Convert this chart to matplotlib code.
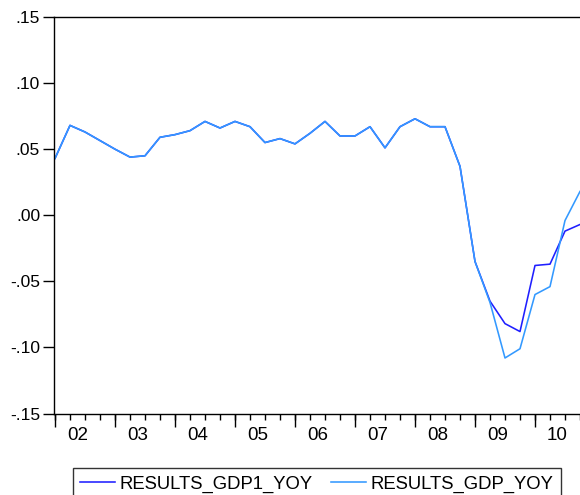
import matplotlib
matplotlib.use("Agg")
import matplotlib.pyplot as plt

plt.rcParams["font.family"] = ["Liberation Sans", "DejaVu Sans"]

# quarterly data, 2002Q1 onwards
years = ["02", "03", "04", "05", "06", "07", "08", "09", "10"]
gdp_yoy = [0.043, 0.068, 0.063, 0.0565, 0.050, 0.044, 0.045, 0.059,
           0.061, 0.064, 0.071, 0.066, 0.071, 0.067, 0.055, 0.058,
           0.054, 0.062, 0.071, 0.060, 0.060, 0.067, 0.051, 0.067,
           0.073, 0.067, 0.067, 0.037, -0.035, -0.066, -0.108, -0.101,
           -0.060, -0.054, -0.004, 0.018]
gdp1_yoy = gdp_yoy[:29] + [-0.065, -0.082, -0.088, -0.038, -0.037,
                           -0.012, -0.007]
yticks = [0.15, 0.10, 0.05, 0.00, -0.05, -0.10, -0.15]
ytick_labels = [".15", ".10", ".05", ".00", "-.05", "-.10", "-.15"]

dark = "#1f1fff"
light = "#3399ff"

fig = plt.figure(figsize=(5.8, 4.95), dpi=100)
# axes runs past the right edge of the figure (cropped like the original)
ax = fig.add_axes([54 / 580, 81.5 / 495, 536 / 580, 396.5 / 495])

x = list(range(len(gdp_yoy)))
ax.plot(x, gdp1_yoy, color=dark, lw=1.15, label="RESULTS_GDP1_YOY")
ax.plot(x, gdp_yoy, color=light, lw=1.15, label="RESULTS_GDP_YOY")

ax.set_ylim(-0.15, 0.15)
ax.set_xlim(-1 / 15, -1 / 15 + 536 / 15)

ax.set_yticks(yticks)
ax.set_yticklabels(ytick_labels)
ax.tick_params(axis="y", direction="out", length=8, width=1.0,
               pad=2, labelsize=12.5)

# year labels centred over each year's four quarters
ax.set_xticks([4 * i + 1.5 for i in range(len(years))])
ax.set_xticklabels(years)
ax.set_xticks(x, minor=True)
ax.tick_params(axis="x", which="major", length=0, pad=9.5, labelsize=13.5)
ax.tick_params(axis="x", which="minor", direction="out", length=4, width=1.0)

# longer ticks at the start of each year
sec = ax.secondary_xaxis("bottom")
sec.set_xticks([4 * i for i in range(len(years))])
sec.tick_params(direction="out", length=9, width=1.0, labelbottom=False)
sec.spines["bottom"].set_visible(False)

for side in ["left", "top", "bottom"]:
    ax.spines[side].set_linewidth(1.0)
    ax.spines[side].set_color("black")
ax.spines["right"].set_visible(False)

leg = fig.legend(loc="upper left", bbox_to_anchor=(73 / 580, 1 - 468 / 495),
                 ncol=2, fontsize=13.3, frameon=True, fancybox=False,
                 handlelength=1.85, handletextpad=0.28, columnspacing=1.0,
                 borderpad=0.4, borderaxespad=0)
leg.get_frame().set_edgecolor("black")
leg.get_frame().set_linewidth(1.0)

fig.savefig("out.png", dpi=100)
